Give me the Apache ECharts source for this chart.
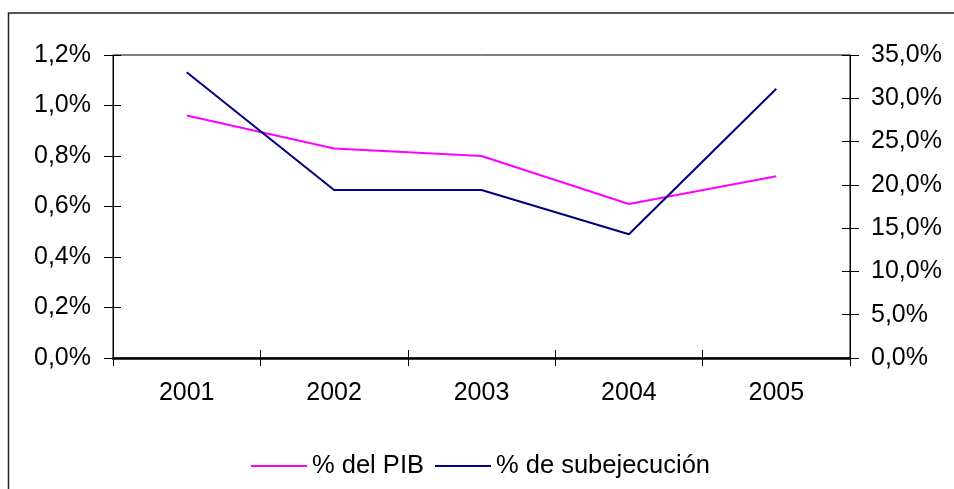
<!DOCTYPE html>
<html>
<head>
<meta charset="utf-8">
<script src="https://cdn.jsdelivr.net/npm/echarts@6/dist/echarts.min.js"></script>
<style>
  html, body { margin: 0; padding: 0; background: #fff; }
  #chart { width: 954px; height: 489px; }
</style>
</head>
<body>
<div id="chart"></div>
<script>
// datos
const years = ['2001', '2002', '2003', '2004', '2005'];
const pibPct = [0.96, 0.83, 0.80, 0.61, 0.72];
const subejecucionPct = [33.0, 19.4, 19.4, 14.3, 31.1];
const seriesNames = ['% del PIB', '% de subejecución'];

const font = '"Liberation Sans", Arial, sans-serif';

// 1,2%  /  35,0%
function fmt(v) {
  return v.toFixed(1).replace('.', ',') + '%';
}

const chart = echarts.init(document.getElementById('chart'));

const gridBox = { left: 113, top: 55, right: 104, bottom: 131 };
const hiddenLine = { show: true, lineStyle: { color: 'rgba(0,0,0,0)', width: 1 } };

// eje base; se repite en un segundo grid con ticks hacia adentro para que crucen la linea
function yAxisBase(pos, max, interval, inner) {
  return {
    type: 'value',
    gridIndex: inner ? 1 : 0,
    position: pos,
    min: 0,
    max: max,
    interval: interval,
    splitLine: { show: false },
    axisLine: inner ? hiddenLine : { show: true, lineStyle: { color: '#000', width: 1 } },
    axisTick: { show: true, inside: inner, length: inner ? 8 : 9, lineStyle: { color: '#000', width: 1 } },
    axisLabel: {
      show: !inner,
      margin: pos === 'left' ? 22 : 21,
      color: '#000',
      fontFamily: font,
      fontSize: 25,
      formatter: fmt
    }
  };
}

// serie invisible para que el grid de ticks no quede "vacio"
function ghost(name, yIdx, data) {
  return {
    name: name,
    type: 'line',
    xAxisIndex: 1,
    yAxisIndex: yIdx,
    data: data,
    symbol: 'none',
    silent: true,
    lineStyle: { opacity: 0 },
    z: 0
  };
}

const option = {
  backgroundColor: '#fff',
  animation: false,
  grid: [
    Object.assign({ show: true, borderColor: '#000', borderWidth: 1 }, gridBox),
    Object.assign({ show: false }, gridBox)
  ],
  graphic: [{
    type: 'rect',
    shape: { x: 8.5, y: 13, width: 1000, height: 1000 },
    style: { fill: 'none', stroke: '#222', lineWidth: 1.5 },
    silent: true
  }],
  legend: {
    left: 246,
    top: 448,
    itemWidth: 56,
    itemHeight: 2,
    itemGap: 11,
    icon: 'rect',
    textStyle: { color: '#000', fontFamily: font, fontSize: 25.5 },
    data: seriesNames
  },
  xAxis: [{
    type: 'category',
    gridIndex: 0,
    data: years,
    boundaryGap: true,
    axisLine: { show: true, lineStyle: { color: '#000', width: 2.5 } },
    axisTick: { show: true, length: 8, lineStyle: { color: '#000', width: 1 } },
    axisLabel: { margin: 23, color: '#000', fontFamily: font, fontSize: 25 }
  }, {
    type: 'category',
    gridIndex: 1,
    data: years,
    position: 'bottom',
    boundaryGap: true,
    axisLine: hiddenLine,
    axisTick: { show: true, inside: true, length: 8, lineStyle: { color: '#000', width: 1 } },
    axisLabel: { show: false }
  }],
  yAxis: [
    yAxisBase('left', 1.2, 0.2, false),
    yAxisBase('right', 35, 5, false),
    yAxisBase('left', 1.2, 0.2, true),
    yAxisBase('right', 35, 5, true)
  ],
  series: [{
    name: seriesNames[0],
    type: 'line',
    xAxisIndex: 0,
    yAxisIndex: 0,
    data: pibPct,
    symbol: 'none',
    color: '#ff00ff',
    lineStyle: { color: '#ff00ff', width: 2 },
    z: 3
  }, {
    name: seriesNames[1],
    type: 'line',
    xAxisIndex: 0,
    yAxisIndex: 1,
    data: subejecucionPct,
    symbol: 'none',
    color: '#000080',
    lineStyle: { color: '#000080', width: 2 },
    z: 4
  },
  ghost('_ticksLeft', 2, pibPct),
  ghost('_ticksRight', 3, subejecucionPct)]
};

chart.setOption(option);
</script>
</body>
</html>
